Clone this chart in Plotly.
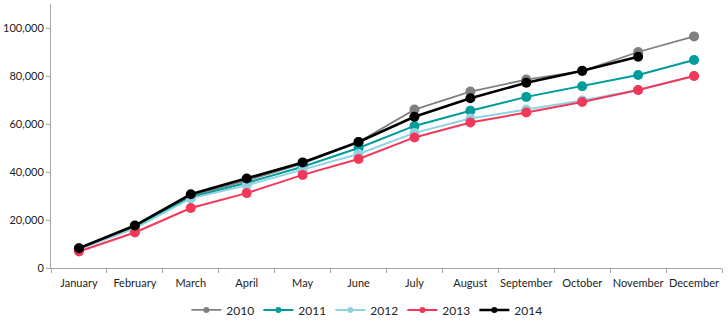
import plotly.graph_objects as go

months = ["January", "February", "March", "April", "May", "June", "July",
          "August", "September", "October", "November", "December"]

y2010 = [8200, 17500, 30000, 36500, 43500, 52500, 66000, 73500, 78500, 82000, 90000, 96500]
y2011 = [8000, 17000, 29500, 35500, 42200, 50000, 59200, 65500, 71300, 75700, 80400, 86700]
y2012 = [7800, 16500, 29000, 34500, 41000, 47500, 56300, 62300, 66000, 69800, 74200, 80000]
y2013 = [6900, 14800, 25000, 31200, 38800, 45400, 54400, 60600, 64800, 69200, 74200, 80000]
y2014 = [8200, 17700, 30700, 37300, 44000, 52500, 63000, 70700, 77200, 82200, 88000, None]

series = [
    ("2010", y2010, "#808080", 1.8),
    ("2011", y2011, "#009b9b", 2),
    ("2012", y2012, "#8fd3e0", 2),
    ("2013", y2013, "#f2385a", 2),
    ("2014", y2014, "#000000", 2.6),
]

fig = go.Figure()
for name, vals, color, w in series:
    fig.add_trace(go.Scatter(
        x=months, y=vals, name=name, mode="lines+markers",
        line=dict(color=color, width=w),
        marker=dict(color=color, size=10),
        showlegend=False,
    ))
# legend entries with smaller symbols, as in the reference
for name, vals, color, w in series:
    fig.add_trace(go.Scatter(
        x=[months[0]], y=[None], name=name, mode="lines+markers",
        line=dict(color=color, width=w),
        marker=dict(color=color, size=6),
        showlegend=True,
    ))

fig.update_layout(
    width=728, height=323,
    margin=dict(l=51, r=6, t=4, b=55, autoexpand=False),
    paper_bgcolor="white", plot_bgcolor="white",
    font=dict(family="Lato, Open Sans, sans-serif", size=11, color="#222"),
    legend=dict(orientation="h", x=0.47, xanchor="center", y=-0.104, yanchor="top",
                font=dict(size=12), itemwidth=30, tracegroupgap=0,
                entrywidth=27, entrywidthmode="pixels"),
    showlegend=True,
)
fig.update_xaxes(
    type="category", showgrid=False, showline=True, linecolor="#a6a6a6", linewidth=1,
    ticks="outside", tickson="boundaries", ticklen=4, tickcolor="#a6a6a6",
    range=[-0.5, 11.5], tickangle=0, automargin=False, ticklabelstandoff=5,
)
fig.update_yaxes(
    range=[0, 110000], dtick=20000, tickformat=",d", showgrid=False,
    showline=True, linecolor="#a6a6a6", linewidth=1,
    ticks="outside", ticklen=4, tickcolor="#a6a6a6", zeroline=False, automargin=False,
)

fig.write_html("out.html")
